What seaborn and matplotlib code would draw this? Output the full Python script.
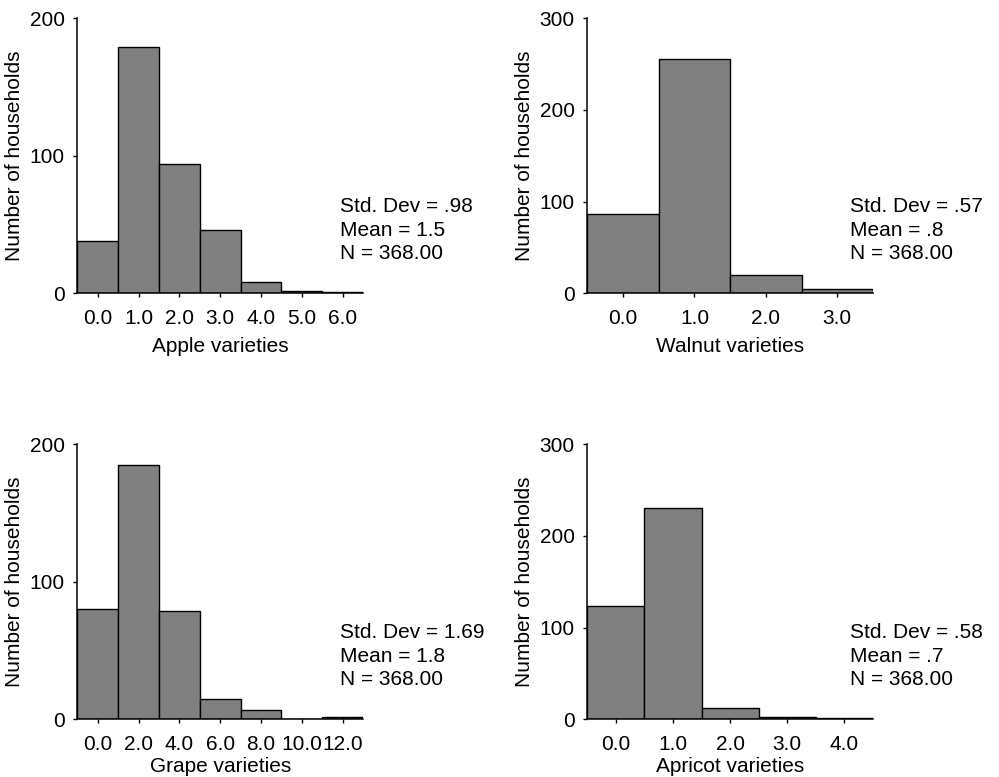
import numpy as np
import pandas as pd
import seaborn as sns
import matplotlib.pyplot as plt

# counts per bin
apple_bins = [0, 1, 2, 3, 4, 5, 6]
apple_counts = [38, 179, 94, 46, 8, 2, 1]

walnut_bins = [0, 1, 2, 3]
walnut_counts = [87, 256, 20, 5]

grape_bins = [0, 2, 4, 6, 8, 10, 12]
grape_counts = [80, 185, 79, 15, 7, 0, 2]

apricot_bins = [0, 1, 2, 3, 4]
apricot_counts = [123, 230, 12, 2, 1]

panels = [
    ("Apple varieties", apple_bins, apple_counts, 1, 200, ".98", "1.5"),
    ("Walnut varieties", walnut_bins, walnut_counts, 1, 300, ".57", ".8"),
    ("Grape varieties", grape_bins, grape_counts, 2, 200, "1.69", "1.8"),
    ("Apricot varieties", apricot_bins, apricot_counts, 1, 300, ".58", ".7"),
]
n_total = "368.00"

sns.set_style("ticks")
plt.rcParams["font.family"] = ["Liberation Sans", "DejaVu Sans"]
plt.rcParams["font.size"] = 15
for k in ["text.color", "axes.labelcolor", "xtick.color", "ytick.color",
          "axes.edgecolor"]:
    plt.rcParams[k] = "black"

fig = plt.figure(figsize=(9.99, 7.77), dpi=100)
# axes boxes [left, bottom, width, height], and x label pad per panel
boxes = [
    [0.0774, 0.6225, 0.286, 0.354],
    [0.5879, 0.6225, 0.286, 0.354],
    [0.0774, 0.0743, 0.286, 0.354],
    [0.5879, 0.0743, 0.286, 0.354],
]
xpads = [7, 7, 2.5, 2.5]

for box, xpad, (label, bins, counts, width, ytop, sd, mean) in zip(boxes, xpads, panels):
    ax = fig.add_axes(box)
    df = pd.DataFrame({"v": bins, "n": counts})
    centers = np.array(bins, dtype=float)
    edges = np.append(centers - width / 2, centers[-1] + width / 2)
    sns.histplot(data=df, x="v", weights="n", bins=edges.tolist(), ax=ax,
                 color="#808080", alpha=1, edgecolor="black", linewidth=1)
    ax.set_xlim(edges[0], edges[-1])
    ax.set_ylim(0, ytop)
    ax.set_yticks(np.arange(0, ytop + 1, 100))
    ax.set_xticks(centers)
    ax.set_xticklabels([f"{b:.1f}" for b in centers])
    ax.set_xlabel(label, labelpad=xpad)
    ax.set_ylabel("Number of households", labelpad=4)
    sns.despine(ax=ax)
    for s in ["left", "bottom"]:
        ax.spines[s].set_linewidth(1.1)
    ax.tick_params(axis="both", length=3, width=1, labelsize=15)
    ax.tick_params(axis="x", pad=8)
    ax.tick_params(axis="y", pad=6)
    ax.text(0.921, 0.23, f"Std. Dev = {sd}\nMean = {mean}\nN = {n_total}",
            transform=ax.transAxes, ha="left", va="center",
            fontsize=15, linespacing=1.3, clip_on=False)

fig.savefig("out.png", dpi=100)
